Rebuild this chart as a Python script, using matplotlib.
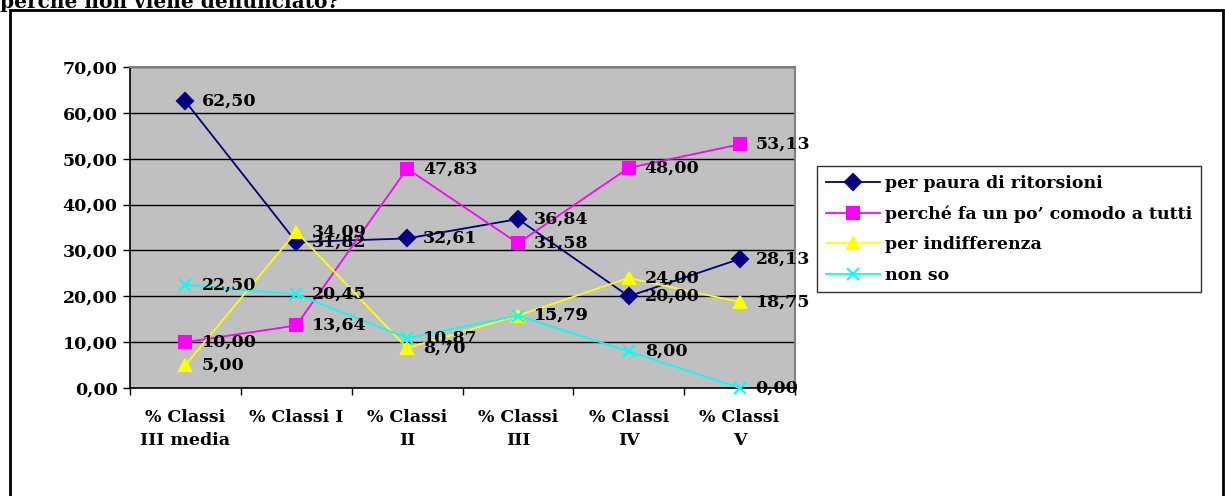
import matplotlib

matplotlib.use("Agg")
import matplotlib.pyplot as plt
from matplotlib.patches import Rectangle

categorie = ["% Classi\nIII media", "% Classi I", "% Classi\nII",
             "% Classi\nIII", "% Classi\nIV", "% Classi\nV"]
paura = [62.50, 31.82, 32.61, 36.84, 20.00, 28.13]
comodo = [10.00, 13.64, 47.83, 31.58, 48.00, 53.13]
indifferenza = [5.00, 34.09, 8.70, 15.79, 24.00, 18.75]
non_so = [22.50, 20.45, 10.87, 15.79, 8.00, 0.00]
yticks = [0, 10, 20, 30, 40, 50, 60, 70]

SERIE = [
    ("per paura di ritorsioni", paura, "#000080", "D", 8),
    ("perché fa un po’ comodo a tutti", comodo, "#ff00ff", "s", 8),
    ("per indifferenza", indifferenza, "#ffff00", "^", 9),
    ("non so", non_so, "#00ffff", "x", 9),
]

plt.rcParams["font.family"] = ["DejaVu Serif", "Liberation Serif"]
plt.rcParams["font.weight"] = "bold"
FS = 12.5

W, H = 1225, 496
fig = plt.figure(figsize=(W / 100, H / 100), dpi=100)

# cornice esterna del grafico
fig.patches.append(Rectangle((10 / W, -0.1), 1213 / W, 1 - 10 / H + 0.1,
                             transform=fig.transFigure, fill=False,
                             ec="black", lw=2))
# titolo tagliato in alto, come nella pagina originale
fig.text(0, 1 - 8 / H, "perché non viene denunciato?", fontsize=14.5,
         fontweight="bold", va="baseline", ha="left")

ax = fig.add_axes([130 / W, 1 - 388 / H, 665 / W, 321 / H])
ax.set_facecolor("#c0c0c0")
x = list(range(len(categorie)))

for label, vals, col, mk, ms in SERIE:
    ax.plot(x, vals, color=col, lw=1.3, marker=mk, ms=ms, mew=1.5,
            label=label, clip_on=False, zorder=3)
    for xi, v in zip(x, vals):
        ax.annotate(f"{v:.2f}".replace(".", ","), (xi, v),
                    xytext=(11.5, 0), textcoords="offset points",
                    va="center", ha="left", fontsize=FS, fontweight="bold",
                    zorder=4, annotation_clip=False)

ax.set_xlim(-0.5, len(categorie) - 0.5)
ax.set_ylim(0, 70)
ax.set_yticks(yticks)
ax.set_yticklabels([f"{t:.2f}".replace(".", ",") for t in yticks],
                   fontsize=FS, fontweight="bold")
ax.set_xticks([i - 0.5 for i in range(len(categorie) + 1)])
ax.set_xticklabels([])
ax.set_xticks(x, minor=True)
ax.set_xticklabels(categorie, minor=True, fontsize=FS, fontweight="bold",
                   va="top", linespacing=1.45)
ax.tick_params(axis="x", which="minor", length=0, pad=15)
ax.tick_params(axis="both", which="major", direction="out", length=5,
               width=1, color="black")
ax.tick_params(axis="y", pad=4)
ax.yaxis.grid(True, color="black", lw=1)
ax.set_axisbelow(True)
for s in ("top", "right"):
    ax.spines[s].set_color("#808080")
    ax.spines[s].set_linewidth(1.5)
for s in ("left", "bottom"):
    ax.spines[s].set_color("black")
    ax.spines[s].set_linewidth(1.2)

leg = fig.legend(loc="upper left", bbox_to_anchor=(817 / W, 1 - 166 / H),
                 frameon=True, fancybox=False, edgecolor="black",
                 fontsize=FS, handlelength=3.1, handletextpad=0.3,
                 labelspacing=0.78, borderpad=0.5, borderaxespad=0)
leg.get_frame().set_linewidth(1)
for t in leg.get_texts():
    t.set_fontweight("bold")

fig.savefig("out.png", dpi=100)
